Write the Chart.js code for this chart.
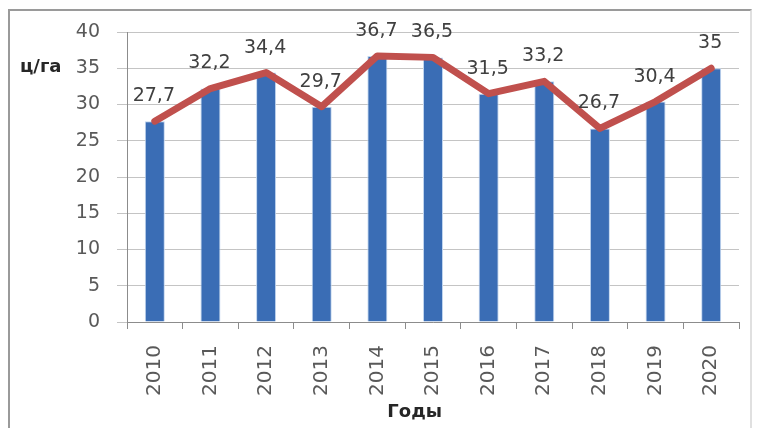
<!DOCTYPE html>
<html>
<head>
<meta charset="utf-8">
<script src="https://cdn.jsdelivr.net/npm/chart.js@4.4.1/dist/chart.umd.min.js"></script>
<style>
  html, body { margin: 0; padding: 0; background: #fff; }
  #wrap { position: relative; width: 758px; height: 428px; overflow: hidden; }
  #frame { position: absolute; left: 8px; top: 9px; width: 744px; height: 440px; border: 2px solid #9a9a9a; border-right-color: #e0e0e0; box-sizing: border-box; }
  canvas { position: absolute; left: 0; top: 0; }
</style>
</head>
<body>
<div id="wrap">
  <div id="frame"></div>
  <canvas id="c" width="758" height="428"></canvas>
</div>
<script>
const years = ['2010','2011','2012','2013','2014','2015','2016','2017','2018','2019','2020'];
const yieldValues = [27.7, 32.2, 34.4, 29.7, 36.7, 36.5, 31.5, 33.2, 26.7, 30.4, 35];
const yMin = 0, yMax = 40, yStep = 5;
const yUnit = 'ц/га';
const xTitle = 'Годы';

const FONT = '"DejaVu Sans", "Liberation Sans", sans-serif';

const fmt = v => String(v).replace('.', ',');

const labelsPlugin = {
  id: 'valueLabels',
  afterDatasetsDraw(chart) {
    const ctx = chart.ctx;
    const meta = chart.getDatasetMeta(1);
    ctx.save();
    ctx.font = '19px ' + FONT;
    ctx.fillStyle = '#404040';
    ctx.textAlign = 'center';
    ctx.textBaseline = 'middle';
    meta.data.forEach((pt, i) => {
      ctx.fillText(fmt(yieldValues[i]), pt.x - 1, pt.y - 25);
    });
    // axis titles
    const ys = chart.scales.y;
    ctx.font = 'bold 18px ' + FONT;
    ctx.fillStyle = '#262626';
    ctx.textAlign = 'left';
    ctx.fillText(yUnit, 20, ys.getPixelForValue(35) - 1);
    ctx.textAlign = 'center';
    const ca = chart.chartArea;
    ctx.fillText(xTitle, ca.left + (ca.right - ca.left) * 0.47, 412);
    ctx.restore();
  }
};

new Chart(document.getElementById('c'), {
  data: {
    labels: years,
    datasets: [
      {
        type: 'bar',
        data: yieldValues,
        backgroundColor: '#3a6db5',
        borderColor: '#c2d6ef',
        borderWidth: 1,
        barPercentage: 0.45,
        categoryPercentage: 0.8,
        order: 2
      },
      {
        type: 'line',
        data: yieldValues,
        borderColor: '#c0504d',
        borderWidth: 7,
        pointRadius: 0,
        tension: 0,
        fill: false,
        order: 1,
        borderJoinStyle: 'round',
        borderCapStyle: 'round'
      }
    ]
  },
  options: {
    responsive: false,
    animation: false,
    devicePixelRatio: 1,
    layout: { padding: { left: 10, right: 19, top: 32, bottom: 0 } },
    plugins: { legend: { display: false }, tooltip: { enabled: false } },
    scales: {
      y: {
        min: yMin, max: yMax,
        ticks: { stepSize: yStep, font: { size: 19, family: FONT }, color: '#595959', padding: 17 },
        grid: { color: '#c4c4c4', lineWidth: 1, tickLength: 10, drawTicks: true },
        border: { color: '#8c8c8c', width: 1 },
        afterFit(s) { s.width = 117; }
      },
      x: {
        offset: true,
        ticks: { minRotation: 90, maxRotation: 90, font: { size: 20, family: FONT }, color: '#595959', padding: 16 },
        grid: { offset: true, drawOnChartArea: false, drawTicks: true, tickLength: 7, color: '#8c8c8c' },
        border: { color: '#8c8c8c', width: 1 },
        afterFit(s) { s.height = 106; }
      }
    }
  },
  plugins: [labelsPlugin]
});
</script>
</body>
</html>
